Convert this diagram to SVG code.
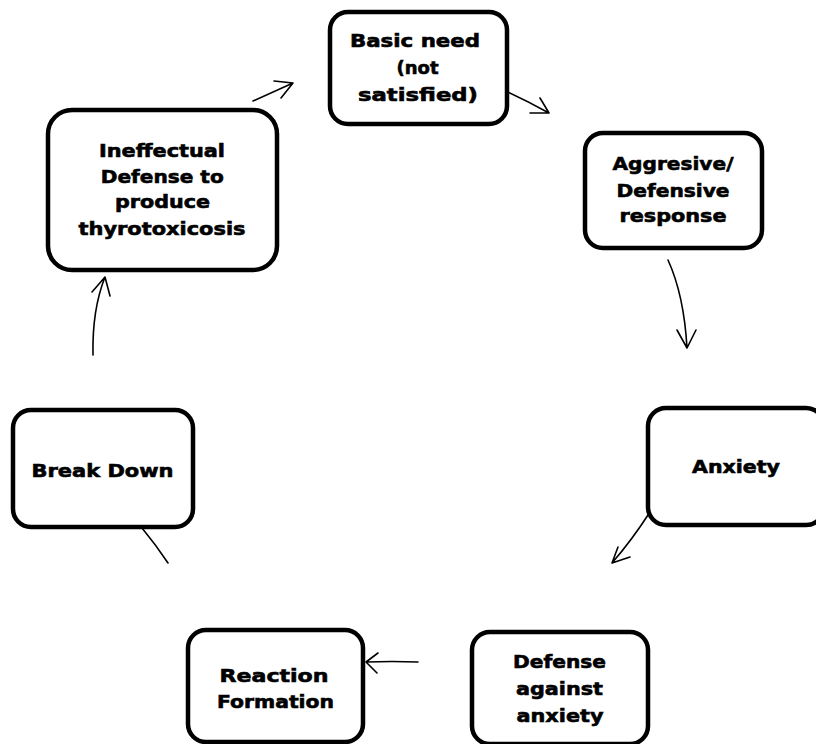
<svg xmlns="http://www.w3.org/2000/svg" width="816" height="744" viewBox="0 0 816 744">
  <defs>
    <style>
      .box { fill: #ffffff; stroke: #000000; stroke-width: 4.5; }
      .lbl { font-family: "DejaVu Sans", "Inter", sans-serif; font-weight: bold; font-size: 18px; fill: #000000; stroke: #000000; stroke-width: 0.6; text-anchor: middle; }
      .wire { fill: none; stroke: #000000; stroke-width: 1.6; stroke-linecap: round; stroke-linejoin: round; }
    </style>
  </defs>
  <rect width="816" height="744" fill="#ffffff"/>

  <g id="connectors">
    <!-- Ineffectual defense -> Basic need -->
    <path class="wire" d="M253,101 L293,83 M274,81 L293,83 L281,98"/>
    <!-- Basic need -> Aggresive/Defensive -->
    <path class="wire" d="M492,85 Q520,97 549,113 M540,98 L549,113 L530,113"/>
    <!-- Aggresive/Defensive -> Anxiety -->
    <path class="wire" d="M668,260 Q684,295 687,348 M677,330 L687,348 L696,330"/>
    <!-- Anxiety -> Defense against anxiety -->
    <path class="wire" d="M650,512 Q632,540 612,563 M630,557 L612,563 L618,547"/>
    <!-- Defense against anxiety -> Reaction formation -->
    <path class="wire" d="M418,662 Q392,661 366,662 M378,653 L366,662 L377,673"/>
    <!-- Break down stroke -->
    <path class="wire" d="M142,528 Q156,545 168,563"/>
    <!-- Break down -> Ineffectual defense -->
    <path class="wire" d="M93,355 Q92,310 105,277 M92,292 L105,277 L110,296"/>
  </g>

  <g id="basic-need">
    <rect class="box" x="330" y="12" width="177" height="112" rx="18"/>
    <text class="lbl" x="415" y="47" textLength="130" lengthAdjust="spacingAndGlyphs">Basic need</text>
    <text class="lbl" x="417.5" y="74" textLength="42" lengthAdjust="spacingAndGlyphs">(not</text>
    <text class="lbl" x="418" y="101" textLength="120" lengthAdjust="spacingAndGlyphs">satisfied)</text>
  </g>

  <g id="aggresive-response">
    <rect class="box" x="585" y="133" width="177" height="115" rx="18"/>
    <text class="lbl" x="673" y="170" textLength="121" lengthAdjust="spacingAndGlyphs">Aggresive/</text>
    <text class="lbl" x="673" y="197" textLength="113" lengthAdjust="spacingAndGlyphs">Defensive</text>
    <text class="lbl" x="673" y="222" textLength="107" lengthAdjust="spacingAndGlyphs">response</text>
  </g>

  <g id="anxiety">
    <rect class="box" x="648" y="408" width="176" height="117" rx="18"/>
    <text class="lbl" x="736" y="473" textLength="88" lengthAdjust="spacingAndGlyphs">Anxiety</text>
  </g>

  <g id="defense-against-anxiety">
    <rect class="box" x="472" y="632" width="176" height="112" rx="18"/>
    <text class="lbl" x="559.5" y="668" textLength="93" lengthAdjust="spacingAndGlyphs">Defense</text>
    <text class="lbl" x="559.5" y="695" textLength="87" lengthAdjust="spacingAndGlyphs">against</text>
    <text class="lbl" x="560" y="722" textLength="87" lengthAdjust="spacingAndGlyphs">anxiety</text>
  </g>

  <g id="reaction-formation">
    <rect class="box" x="188" y="630" width="175" height="112" rx="18"/>
    <text class="lbl" x="274" y="682" textLength="109" lengthAdjust="spacingAndGlyphs">Reaction</text>
    <text class="lbl" x="275.5" y="708" textLength="117" lengthAdjust="spacingAndGlyphs">Formation</text>
  </g>

  <g id="break-down">
    <rect class="box" x="13" y="410" width="180" height="117" rx="18"/>
    <text class="lbl" x="102.5" y="477" textLength="142" lengthAdjust="spacingAndGlyphs">Break Down</text>
  </g>

  <g id="ineffectual-defense">
    <rect class="box" x="48" y="110" width="229" height="160" rx="24"/>
    <text class="lbl" x="162" y="157" textLength="126" lengthAdjust="spacingAndGlyphs">Ineffectual</text>
    <text class="lbl" x="162.3" y="183" textLength="123" lengthAdjust="spacingAndGlyphs">Defense to</text>
    <text class="lbl" x="162.5" y="208" textLength="95" lengthAdjust="spacingAndGlyphs">produce</text>
    <text class="lbl" x="162" y="235" textLength="167" lengthAdjust="spacingAndGlyphs">thyrotoxicosis</text>
  </g>
</svg>
